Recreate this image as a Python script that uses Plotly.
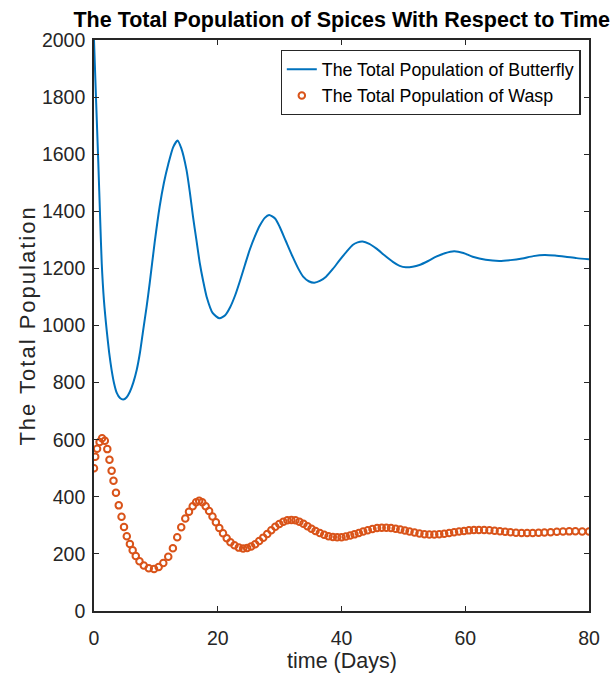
import plotly.graph_objects as go

# ---------------- data ----------------
butterfly_days = [0, 0.35, 0.7, 1.0, 1.25, 1.6, 2.05, 2.45, 2.85, 3.25,
                  3.66, 4.2, 4.73, 5.25, 5.8, 6.35, 6.9, 7.45, 7.95, 8.5,
                  9.0, 9.8, 10.6, 11.3, 12.0, 12.8, 13.5, 14.1, 14.95, 15.5,
                  16.0, 16.55, 17.1, 17.65, 18.2, 19.2, 20.3, 21.2, 22.0, 22.8,
                  23.6, 24.4, 25.2, 26.0, 26.8, 27.6, 28.3, 29.3, 30.0, 31.0, 32.1,
                  33.0, 33.8, 34.7, 35.6, 36.5, 37.5, 38.6, 39.7, 40.8, 41.8,
                  42.6, 43.4, 44.5, 45.6, 47.0, 48.3, 49.4, 50.4, 51.5, 52.6,
                  54.0, 55.3, 56.7, 58.2, 59.7, 61.2, 63.3, 65.5, 67.3, 69.2,
                  71.0, 72.8, 74.5, 76.2, 78.0, 80.0]
butterfly_population = [2000, 1780, 1568, 1370, 1218, 1090, 984, 905, 844, 797,
                        765, 746, 741, 748, 768, 800, 844, 908, 984, 1065,
                        1148, 1290, 1415, 1500, 1565, 1625, 1648, 1621, 1545, 1465,
                        1381, 1300, 1218, 1155, 1101, 1043, 1025, 1036, 1064, 1105,
                        1157, 1213, 1267, 1312, 1350, 1377, 1387, 1374, 1346, 1296, 1241,
                        1200, 1171, 1155, 1150, 1156, 1171, 1198, 1229, 1258, 1282,
                        1291, 1294, 1286, 1270, 1245, 1223, 1209, 1204, 1206, 1212,
                        1226, 1241, 1253, 1260, 1254, 1241, 1230, 1226, 1229, 1235,
                        1243, 1247, 1245, 1241, 1236, 1232]

wasp_days = [0, 0.2, 0.5, 0.9, 1.3,
             1.75, 2.15, 2.5, 2.85, 3.15, 3.55, 4.0, 4.45, 4.85, 5.3, 5.8, 6.25, 6.75, 7.35, 8.05, 8.85, 9.7,
             10.45, 11.2, 12.0, 12.75, 13.45, 14.1, 14.75, 15.35, 15.95, 16.5, 17.0,
             17.5, 18.05, 18.6, 19.15, 19.7, 20.25, 20.85, 21.45, 22.05, 22.7, 23.4, 24.1,
             24.75, 25.4, 26.05, 26.7, 27.35, 28.0, 28.65, 29.3, 29.95, 30.6, 31.25, 31.9,
             32.55, 33.2, 33.85, 34.5, 35.15, 35.8, 36.5, 37.2, 37.9, 38.6, 39.3,
             40.0, 40.7, 41.4, 42.1, 42.8, 43.5, 44.25, 45.0, 45.75, 46.5,
             47.25, 48.0, 48.75, 49.5, 50.25, 51.0, 51.8, 52.6, 53.4, 54.2,
             55.0, 55.8, 56.6, 57.4, 58.2, 59.0, 59.8, 60.6, 61.4, 62.2,
             63.05, 63.9, 64.75, 65.6, 66.45, 67.3, 68.2, 69.1, 70.0,
             70.9, 71.85, 72.8, 73.8, 74.8, 75.8, 76.8, 77.8, 78.9, 80.0]
wasp_population = [500, 540, 568, 592, 605,
                   596, 567, 530, 491, 456, 414, 370, 330, 294, 262, 235, 213, 193, 174, 159, 150, 147,
                   154, 168, 190, 220, 258, 293, 324, 348, 367, 381, 386,
                   381, 367, 350, 331, 311, 291, 272, 255, 241, 230, 222, 219,
                   221, 226, 234, 245, 257, 270, 283, 295, 305, 313, 318, 319,
                   318, 313, 306, 297, 288, 280, 273, 267, 262, 259, 258,
                   258.7, 260.8, 264.2, 268.4, 273.2, 278.2, 283.2, 287.4, 290.4, 291.9,
                   291.8, 290.6, 288.4, 285.4, 281.9, 278.3, 274.6, 271.4, 269.2, 268.1,
                   268.2, 269.1, 270.8, 273.0, 275.5, 278.1, 280.5, 282.4, 283.6, 284.0,
                   283.7, 282.7, 281.2, 279.4, 277.5, 275.7, 274.2, 273.2, 273.0,
                   273.3, 274.0, 275.0, 276.2, 277.4, 278.3, 278.9, 279.0, 278.8, 278.4]

x_ticks = [0, 20, 40, 60, 80]
y_ticks = [0, 200, 400, 600, 800, 1000, 1200, 1400, 1600, 1800, 2000]

title_text = "The Total Population of Spices With Respect to Time"
x_title = "time (Days)"
y_title = "The Total Population"
butterfly_name = "The Total Population of Butterfly"
wasp_name = "The Total Population of Wasp"

# ---------------- styling ----------------
BLUE = "#0072BD"
ORANGE = "#D95319"
AX = "#262626"
FONT = "Liberation Sans, Arial, Helvetica, sans-serif"

W, H = 614, 678
L, R, T, B = 94, 24.5, 40, 67

fig = go.Figure()
fig.add_trace(go.Scatter(
    x=butterfly_days, y=butterfly_population, mode="lines", name=butterfly_name,
    line=dict(color=BLUE, width=2, shape="spline", smoothing=0.6),
))
fig.add_trace(go.Scatter(
    x=wasp_days, y=wasp_population, mode="markers", name=wasp_name,
    marker=dict(symbol="circle-open", size=6.5, color=ORANGE, line=dict(color=ORANGE, width=2)),
))

axis_common = dict(
    showgrid=False, zeroline=False, showline=True, linecolor=AX, linewidth=1.6,
    mirror="ticks", ticks="inside", ticklen=5, tickwidth=1.4, tickcolor=AX,
    tickfont=dict(family=FONT, size=19.5, color=AX), automargin=False,
)
fig.update_xaxes(range=[0, 80], tickvals=x_ticks, ticklabelstandoff=9, **axis_common)
fig.update_yaxes(range=[0, 2000], tickvals=y_ticks, ticklabelstandoff=3, **axis_common)

pw = W - L - R
ph = H - T - B

fig.update_layout(
    width=W, height=H,
    margin=dict(l=L, r=R, t=T, b=B, pad=0),
    paper_bgcolor="white", plot_bgcolor="white",
    title=dict(text="<b>" + title_text + "</b>", x=(L + pw / 2) / W, xanchor="center",
               y=1 - 19 / H, yanchor="middle", yref="container",
               font=dict(family=FONT, size=21.5, color="black")),
    legend=dict(x=(581 - L) / pw, xanchor="right", y=(H - B - 50) / ph, yanchor="top",
                bgcolor="white", bordercolor=AX, borderwidth=1.3,
                font=dict(family=FONT, size=17.8, color="black"),
                itemwidth=30, tracegroupgap=0),
    showlegend=True,
    annotations=[
        dict(text=x_title, xref="paper", yref="paper", x=0.5, y=-(661 - (H - B)) / ph,
             xanchor="center", yanchor="middle", showarrow=False,
             font=dict(family=FONT, size=21.5, color=AX)),
        dict(text='<span style="letter-spacing:2px">' + y_title + '</span>',
             xref="paper", yref="paper", x=-(L - 27) / pw, y=0.5, textangle=-90,
             xanchor="center", yanchor="middle", showarrow=False,
             font=dict(family=FONT, size=22, color=AX)),
    ],
)

fig.write_html("out.html", config={"displayModeBar": False},
               post_script="document.body.style.margin='0';document.body.style.padding='0';")
